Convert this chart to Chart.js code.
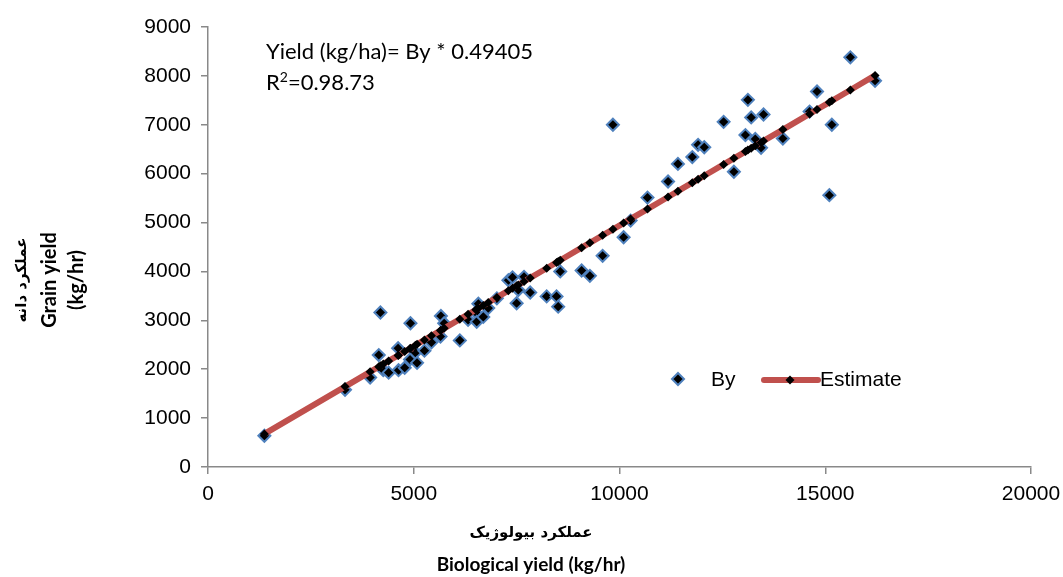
<!DOCTYPE html>
<html>
<head>
<meta charset="utf-8">
<script src="https://cdn.jsdelivr.net/npm/chart.js@4"></script>
<style>
  body { margin: 0; background: #fff; }
  #wrap { width: 1063px; height: 577px; }
</style>
</head>
<body>
<div id="wrap"><canvas id="myChart" width="1063" height="577"></canvas></div>
<script>
// biological yield (x) and grain yield (y)
const byX = [1370, 3330, 3940, 4150, 4190, 4260, 4390, 4620, 4630, 4780, 4910, 4920, 5040, 5080, 5260, 5430,
  5650, 5660, 5740, 6120, 6320, 6510, 6530, 6570, 6690, 6810, 7020, 7300, 7400, 7500, 7540, 7680, 7830,
  8230, 8470, 8510, 8560, 9080, 9280, 9590, 9840, 10100, 10270, 10680, 11180, 11420, 11770, 11910, 12060,
  12530, 12780, 13060, 13120, 13200, 13300, 13440, 13500, 13970, 14620, 14800, 15100, 15160, 15610, 16210];
const byY = [640, 1580, 1830, 2290, 3160, 1980, 1930, 2430, 1980, 2030, 2200, 2940, 2340, 2130, 2380, 2550,
  2670, 3090, 2940, 2590, 3010, 3160, 2970, 3340, 3070, 3250, 3450, 3820, 3880, 3350, 3620, 3890, 3570,
  3490, 3490, 3280, 4000, 4020, 3910, 4320, 7000, 4700, 5040, 5510, 5840, 6200, 6340, 6590, 6540,
  7060, 6040, 6790, 7510, 7150, 6710, 6530, 7210, 6720, 7270, 7680, 5560, 7000, 8380, 7900];
// estimate line values at the same x positions
const estY = [677, 1645, 1947, 2050, 2070, 2105, 2169, 2283, 2287, 2362, 2426, 2431, 2490, 2510, 2599, 2683,
  2791, 2796, 2836, 3024, 3122, 3216, 3226, 3246, 3305, 3364, 3468, 3607, 3656, 3705, 3725, 3794, 3868,
  4066, 4185, 4204, 4229, 4486, 4585, 4738, 4861, 4990, 5074, 5276, 5523, 5642, 5815, 5884, 5958,
  6190, 6314, 6452, 6482, 6521, 6571, 6640, 6670, 6902, 7223, 7312, 7460, 7490, 7712, 8009];
const xTicks = [0, 5000, 10000, 15000, 20000];
const yTicks = [0, 1000, 2000, 3000, 4000, 5000, 6000, 7000, 8000, 9000];

const blue = '#4f81bd';
const red = '#c0504d';
const axisGray = '#898989';

function diamond(ctx, x, y, r) {
  ctx.beginPath();
  ctx.moveTo(x, y - r); ctx.lineTo(x + r, y); ctx.lineTo(x, y + r); ctx.lineTo(x - r, y);
  ctx.closePath();
}

const extras = {
  id: 'extras',
  afterDraw(chart) {
    const ctx = chart.ctx;
    ctx.save();
    ctx.fillStyle = '#000';
    // equation text
    ctx.font = '22px Lato, "Open Sans", sans-serif';
    ctx.textAlign = 'left';
    ctx.textBaseline = 'middle';
    ctx.fillText('Yield (kg/ha)= By * 0.49405', 266, 52);
    ctx.fillText('R', 266, 83);
    const rw = ctx.measureText('R').width;
    ctx.font = '14px Lato, "Open Sans", sans-serif';
    ctx.fillText('2', 266 + rw, 77);
    const sw = ctx.measureText('2').width;
    ctx.font = '22px Lato, "Open Sans", sans-serif';
    ctx.fillText('=0.98.73', 266 + rw + sw, 83);

    // legend
    diamond(ctx, 678, 379, 6);
    ctx.fillStyle = '#000'; ctx.fill();
    ctx.lineWidth = 2; ctx.strokeStyle = blue; ctx.stroke();
    ctx.font = '21px "Liberation Sans", Arial, sans-serif';
    ctx.fillStyle = '#000';
    ctx.fillText('By', 711, 380);
    ctx.beginPath();
    ctx.moveTo(764, 380); ctx.lineTo(818, 380);
    ctx.lineWidth = 6; ctx.lineCap = 'round'; ctx.strokeStyle = red; ctx.stroke();
    diamond(ctx, 790, 380, 4.5);
    ctx.fill();
    ctx.fillText('Estimate', 820, 380);

    // axis titles
    ctx.textAlign = 'center';
    ctx.font = 'bold 15px "DejaVu Sans", sans-serif';
    ctx.fillText('عملکرد بیولوژیک', 531, 533);
    ctx.font = 'bold 19px Lato, "Open Sans", sans-serif';
    ctx.fillText('Biological yield (kg/hr)', 531, 565);

    ctx.translate(0, 280);
    ctx.rotate(-Math.PI / 2);
    ctx.font = 'bold 15px "DejaVu Sans", sans-serif';
    ctx.fillText('عملکرد دانه', 0, 22);
    ctx.font = 'bold 20px Lato, "Open Sans", sans-serif';
    ctx.fillText('Grain yield', 0, 50);
    ctx.fillText('(kg/hr)', 0, 77);
    ctx.restore();
  }
};

const ctx = document.getElementById('myChart').getContext('2d');
const myChart = new Chart(ctx, {
  type: 'scatter',
  data: {
    datasets: [{
      label: 'Estimate',
      data: byX.map((x, i) => ({ x: x, y: estY[i] })),
      showLine: true,
      borderColor: red,
      borderWidth: 6,
      pointStyle: 'rectRot',
      pointRadius: 4.5,
      pointBorderWidth: 0,
      pointBackgroundColor: '#000',
      pointBorderColor: '#000',
      order: 0
    }, {
      label: 'By',
      data: byX.map((x, i) => ({ x: x, y: byY[i] })),
      pointStyle: 'rectRot',
      pointRadius: 6,
      pointBorderWidth: 2,
      pointBackgroundColor: '#000',
      pointBorderColor: blue,
      order: 1
    }]
  },
  options: {
    responsive: false,
    animation: false,
    devicePixelRatio: 1,
    layout: { padding: { top: 27, right: 32, left: 0, bottom: 0 } },
    plugins: { legend: { display: false }, tooltip: { enabled: false } },
    scales: {
      x: {
        type: 'linear',
        min: 0, max: 20000,
        afterFit: s => { s.height = 110; s.paddingRight = 0; },
        afterBuildTicks: s => { s.ticks = xTicks.map(v => ({ value: v })); },
        grid: { drawOnChartArea: false, tickLength: 7, color: axisGray, lineWidth: 1.5 },
        border: { color: axisGray, width: 1.5 },
        ticks: { color: '#000', padding: 8, maxRotation: 0, callback: v => String(v),
          font: { family: '"Liberation Sans", Arial', size: 21 } }
      },
      y: {
        min: 0, max: 9000,
        afterFit: s => { s.width = 208; },
        afterBuildTicks: s => { s.ticks = yTicks.map(v => ({ value: v })); },
        grid: { drawOnChartArea: false, tickLength: 7, color: axisGray, lineWidth: 1.5 },
        border: { color: axisGray, width: 1.5 },
        ticks: { color: '#000', padding: 10, callback: v => String(v),
          font: { family: '"Liberation Sans", Arial', size: 21 } }
      }
    }
  },
  plugins: [extras]
});
</script>
</body>
</html>
